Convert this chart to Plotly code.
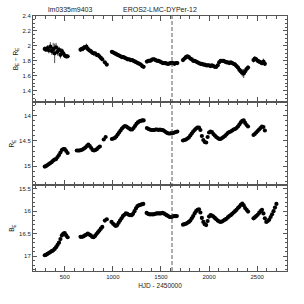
import plotly.graph_objects as go
from plotly.subplots import make_subplots

# ---------------- data ----------------
t_color = [292, 305, 320, 335, 350, 365, 380, 395, 410, 425, 440, 455, 470, 485, 500, 515, 530,
           664, 680, 695, 710, 725, 740, 755, 770, 785, 800, 815, 830, 845, 860, 875, 890, 917, 937,
           990, 1005, 1020, 1035, 1050, 1065, 1080, 1095, 1110, 1125, 1140, 1155, 1170, 1185, 1200, 1215,
           1230, 1245, 1260, 1275, 1290, 1305, 1320,
           1354, 1370, 1385, 1400, 1415, 1430, 1445, 1460, 1475, 1490, 1505, 1520, 1535, 1550, 1565, 1580,
           1595, 1610, 1625, 1640, 1655, 1670,
           1729, 1745, 1760, 1775, 1790, 1805, 1820, 1835, 1850, 1865, 1880, 1895, 1910, 1925, 1940, 1955,
           1970, 1985, 2000, 2015, 2030, 2045, 2060, 2075, 2090, 2105, 2120, 2135, 2150, 2165, 2180, 2195,
           2210, 2225, 2240, 2255, 2270, 2285, 2300, 2315, 2330, 2345, 2360, 2375, 2390, 2405,
           2462, 2475, 2490, 2505, 2520, 2535, 2550, 2565, 2580]
color_be_re = [1.96, 1.95, 1.97, 1.94, 1.99, 1.93, 1.96, 1.90, 1.98, 1.92, 1.95, 1.88, 1.93, 1.90, 1.87, 1.86, 1.86,
               1.95, 1.96, 1.97, 1.98, 1.99, 1.96, 1.94, 1.93, 1.91, 1.90, 1.90, 1.88, 1.88, 1.86, 1.84, 1.82, 1.78, 1.75,
               1.92, 1.91, 1.90, 1.89, 1.88, 1.87, 1.86, 1.85, 1.85, 1.84, 1.83, 1.82, 1.82, 1.81, 1.81, 1.80,
               1.79, 1.78, 1.77, 1.76, 1.75, 1.73, 1.72,
               1.79, 1.80, 1.80, 1.81, 1.82, 1.82, 1.81, 1.80, 1.80, 1.79, 1.78, 1.77, 1.77, 1.77, 1.76, 1.76,
               1.77, 1.77, 1.77, 1.76, 1.77, 1.77,
               1.81, 1.83, 1.85, 1.86, 1.85, 1.83, 1.82, 1.80, 1.80, 1.79, 1.78, 1.77, 1.76, 1.76, 1.75, 1.75,
               1.74, 1.74, 1.74, 1.73, 1.74, 1.73, 1.72, 1.72, 1.74, 1.78, 1.80, 1.80, 1.80, 1.79, 1.78, 1.78,
               1.77, 1.78, 1.77, 1.76, 1.75, 1.73, 1.71, 1.68, 1.66, 1.64, 1.63, 1.66, 1.69, 1.71,
               1.81, 1.83, 1.82, 1.80, 1.79, 1.78, 1.77, 1.79, 1.76]
color_err = [0.03, 0.03, 0.04, 0.04, 0.06, 0.05, 0.08, 0.13, 0.06, 0.05, 0.04, 0.05, 0.04, 0.03, 0.03, 0.03, 0.02,
             0.03, 0.03, 0.04, 0.03, 0.04, 0.03, 0.03, 0.03, 0.03, 0.03, 0.02, 0.03, 0.02, 0.03, 0.02, 0.02, 0.02, 0.02,
             0.02, 0.02, 0.02, 0.03, 0.02, 0.02, 0.02, 0.02, 0.02, 0.02, 0.02, 0.02, 0.02, 0.02, 0.02, 0.02,
             0.02, 0.02, 0.02, 0.02, 0.02, 0.02, 0.02,
             0.02, 0.02, 0.02, 0.03, 0.02, 0.02, 0.02, 0.02, 0.02, 0.02, 0.02, 0.02, 0.02, 0.02, 0.02, 0.02,
             0.02, 0.02, 0.02, 0.02, 0.02, 0.02,
             0.02, 0.03, 0.03, 0.02, 0.02, 0.02, 0.02, 0.02, 0.02, 0.02, 0.02, 0.02, 0.02, 0.02, 0.02, 0.02,
             0.02, 0.02, 0.02, 0.02, 0.02, 0.02, 0.02, 0.02, 0.02, 0.02, 0.02, 0.02, 0.02, 0.02, 0.02, 0.02,
             0.02, 0.02, 0.02, 0.02, 0.03, 0.03, 0.03, 0.04, 0.04, 0.05, 0.06, 0.04, 0.03, 0.03,
             0.03, 0.03, 0.03, 0.03, 0.03, 0.03, 0.03, 0.04, 0.03]

t_red = [292, 305, 320, 335, 350, 365, 380, 395, 410, 425, 440, 455, 470, 485, 500, 515, 530,
         625, 640, 655, 670, 685, 700, 715, 730, 745, 760, 775, 790, 805, 820, 835, 850, 865, 905, 925,
         990, 1005, 1020, 1035, 1050, 1065, 1080, 1095, 1110, 1125, 1140, 1155, 1170, 1185, 1200, 1215,
         1230, 1245, 1260, 1275, 1290, 1305, 1320,
         1354, 1370, 1385, 1400, 1415, 1430, 1445, 1460, 1475, 1490, 1505, 1520, 1535, 1550, 1565, 1580,
         1595, 1610, 1625, 1640, 1655, 1670,
         1729, 1745, 1760, 1775, 1790, 1805, 1820, 1835, 1850, 1865, 1880, 1895, 1910, 1925, 1940, 1955,
         1970, 1985, 2000, 2015, 2030, 2045, 2060, 2075, 2090, 2105, 2120, 2135, 2150, 2165, 2180, 2195,
         2210, 2225, 2240, 2255, 2270, 2285, 2300, 2315, 2330, 2345, 2360, 2375, 2390, 2405,
         2462, 2475, 2490, 2505, 2520, 2535, 2550, 2565, 2580]
r_e = [15.01, 15.00, 14.98, 14.96, 14.94, 14.92, 14.89, 14.87, 14.86, 14.82, 14.78, 14.73, 14.68, 14.66, 14.66, 14.70, 14.74,
       14.69, 14.69, 14.69, 14.68, 14.67, 14.65, 14.63, 14.60, 14.57, 14.60, 14.64, 14.68, 14.69, 14.68, 14.66, 14.63, 14.61, 14.47, 14.42,
       14.46, 14.45, 14.44, 14.41, 14.37, 14.33, 14.29, 14.25, 14.22, 14.20, 14.21, 14.23, 14.25, 14.27, 14.27, 14.24,
       14.20, 14.16, 14.13, 14.11, 14.10, 14.09, 14.09,
       14.24, 14.26, 14.27, 14.28, 14.28, 14.28, 14.27, 14.27, 14.28, 14.27, 14.28, 14.28, 14.30, 14.32, 14.34, 14.35,
       14.35, 14.34, 14.34, 14.33, 14.32, 14.31,
       14.49, 14.48, 14.47, 14.45, 14.43, 14.39, 14.35, 14.31, 14.28, 14.25, 14.23, 14.23, 14.28, 14.40, 14.48, 14.52,
       14.53, 14.42, 14.33, 14.31, 14.32, 14.36, 14.39, 14.42, 14.44, 14.46, 14.46, 14.44, 14.42, 14.40, 14.37, 14.34,
       14.32, 14.31, 14.29, 14.27, 14.26, 14.24, 14.21, 14.17, 14.13, 14.10, 14.09, 14.14, 14.18, 14.21,
       14.38, 14.36, 14.33, 14.30, 14.27, 14.24, 14.21, 14.22, 14.29]

t_blue = [292, 305, 320, 335, 350, 365, 380, 395, 410, 425, 440, 455, 470, 485, 500, 515, 530,
          664, 680, 695, 710, 725, 740, 755, 770, 785, 800, 815, 830, 845, 860, 875, 890, 917, 937,
          986, 1003, 1018, 1031, 1045, 1060, 1075, 1090, 1105, 1120, 1135, 1150, 1165, 1180, 1195, 1210,
          1225, 1240, 1255, 1270, 1285, 1300, 1316,
          1351, 1365, 1380, 1395, 1410, 1425, 1440, 1455, 1470, 1485, 1500, 1515, 1530, 1545, 1560, 1575,
          1590, 1605, 1620, 1635, 1650, 1665,
          1729, 1745, 1760, 1775, 1790, 1805, 1820, 1835, 1850, 1865, 1880, 1895, 1910, 1925, 1940, 1955,
          1970, 1985, 2000, 2015, 2030, 2045, 2060, 2075, 2090, 2105, 2120, 2135, 2150, 2165, 2180, 2195,
          2210, 2225, 2240, 2255, 2270, 2285, 2300, 2315, 2330, 2345, 2360, 2375, 2390, 2405,
          2462, 2475, 2490, 2505, 2520, 2535, 2550, 2565, 2580, 2595, 2610, 2625, 2640, 2655, 2670, 2685, 2700]
b_e = [16.98, 16.97, 16.95, 16.93, 16.91, 16.89, 16.87, 16.84, 16.80, 16.75, 16.70, 16.62, 16.54, 16.50, 16.49, 16.54, 16.58,
       16.57, 16.57, 16.56, 16.54, 16.52, 16.50, 16.52, 16.54, 16.57, 16.58, 16.55, 16.51, 16.47, 16.43, 16.39, 16.35, 16.21, 16.18,
       16.24, 16.28, 16.31, 16.33, 16.31, 16.26, 16.21, 16.16, 16.11, 16.08, 16.05, 16.06, 16.08, 16.09, 16.09, 16.06,
       16.00, 15.94, 15.89, 15.87, 15.86, 15.85, 15.84,
       16.04, 16.06, 16.07, 16.07, 16.07, 16.07, 16.06, 16.05, 16.05, 16.05, 16.05, 16.04, 16.05, 16.07, 16.09, 16.11,
       16.13, 16.13, 16.12, 16.11, 16.11, 16.11,
       16.30, 16.29, 16.28, 16.26, 16.24, 16.21, 16.16, 16.11, 16.05, 16.00, 15.97, 15.96, 16.03, 16.15, 16.24, 16.29,
       16.31, 16.22, 16.12, 16.09, 16.10, 16.12, 16.15, 16.18, 16.21, 16.23, 16.24, 16.23, 16.21, 16.19, 16.17, 16.14,
       16.11, 16.09, 16.06, 16.03, 16.00, 15.97, 15.93, 15.90, 15.86, 15.83, 15.87, 15.93, 15.97, 16.01,
       16.16, 16.14, 16.11, 16.08, 16.04, 16.00, 15.97, 16.05, 16.16, 16.24, 16.22, 16.19, 16.13, 16.07, 16.00, 15.92, 15.84]

x_ticks = [500, 1000, 1500, 2000, 2500]
marker_hjd = 1615
field_label = "lm0335m9403"
star_label = "EROS2-LMC-DYPer-12"

# ---------------- figure ----------------
FONT = "Liberation Sans, Arial, Helvetica, sans-serif"
TXT = "#222222"
fig = make_subplots(rows=3, cols=1, shared_xaxes=True, vertical_spacing=0)

mk = dict(color="black", size=4.2, line=dict(width=0))
fig.add_trace(go.Scatter(x=t_color, y=color_be_re, mode="markers", marker=mk,
                         error_y=dict(type="data", array=color_err, width=0, thickness=0.7, color="black")),
              row=1, col=1)
fig.add_trace(go.Scatter(x=t_red, y=r_e, mode="markers", marker=mk), row=2, col=1)
fig.add_trace(go.Scatter(x=t_blue, y=b_e, mode="markers", marker=mk), row=3, col=1)

axcol = "#555555"
xcommon = dict(range=[170, 2810], tickvals=x_ticks, ticks="inside", ticklen=5, tickwidth=1,
               tickcolor=axcol, showline=True, linecolor=axcol, linewidth=1, mirror="allticks",
               showgrid=False, zeroline=False, automargin=False,
               minor=dict(dtick=100, tick0=0, ticks="inside", ticklen=3, tickcolor=axcol, showgrid=False),
               tickfont=dict(family=FONT, size=6, color=TXT))
for i in (1, 2, 3):
    fig.update_xaxes(row=i, col=1, **xcommon)
fig.update_xaxes(row=1, col=1, showticklabels=False)
fig.update_xaxes(row=2, col=1, showticklabels=False)
fig.update_xaxes(row=3, col=1, title=dict(text="HJD - 2450000", font=dict(family=FONT, size=6.5, color=TXT),
                                          standoff=4))

ycommon = dict(ticks="inside", ticklen=4, tickwidth=1, tickcolor=axcol, showline=True, linecolor=axcol,
               linewidth=1, mirror="allticks", showgrid=False, zeroline=False, automargin=False,
               tickfont=dict(family=FONT, size=6, color=TXT))
fig.update_yaxes(row=1, col=1, range=[1.25, 2.4], tick0=1.4, dtick=0.2,
                 minor=dict(dtick=0.05, tick0=1.4, ticks="inside", ticklen=2, tickcolor=axcol, showgrid=False),
                 title=dict(text="B<sub>E</sub> − R<sub>E</sub>", font=dict(family=FONT, size=6.5, color=TXT),
                            standoff=3),
                 **ycommon)
fig.update_yaxes(row=2, col=1, range=[15.38, 13.72], tick0=14, dtick=0.5,
                 minor=dict(dtick=0.1, tick0=14, ticks="inside", ticklen=2, tickcolor=axcol, showgrid=False),
                 title=dict(text="R<sub>E</sub>", font=dict(family=FONT, size=6.5, color=TXT), standoff=3),
                 **ycommon)
fig.update_yaxes(row=3, col=1, range=[17.33, 15.42], tick0=15.5, dtick=0.5,
                 minor=dict(dtick=0.1, tick0=15.5, ticks="inside", ticklen=2, tickcolor=axcol, showgrid=False),
                 title=dict(text="B<sub>E</sub>", font=dict(family=FONT, size=6.5, color=TXT), standoff=3),
                 **ycommon)

# panel domains (bottom -> top)
fig.update_layout(yaxis3=dict(domain=[0.0, 0.337]), yaxis2=dict(domain=[0.337, 0.663]),
                  yaxis=dict(domain=[0.663, 1.0]))

fig.add_shape(type="line", xref="x", yref="paper", x0=marker_hjd, x1=marker_hjd, y0=0, y1=1,
              line=dict(color="#333333", width=0.8, dash="4px,2px"))

fig.add_annotation(text=field_label, xref="paper", yref="paper", x=0.05, y=1.0, xanchor="left",
                   yanchor="bottom", yshift=1, showarrow=False,
                   font=dict(family=FONT, size=7, color=TXT))
fig.add_annotation(text=star_label, xref="paper", yref="paper", x=0.5, y=1.0, xanchor="center",
                   yanchor="bottom", yshift=1, showarrow=False,
                   font=dict(family=FONT, size=7, color=TXT))

fig.update_layout(width=304, height=304, margin=dict(l=33, r=17, t=16, b=33, autoexpand=False),
                  paper_bgcolor="white", plot_bgcolor="white", showlegend=False)

fig.write_html("out.html", config={"displayModeBar": False},
               post_script="document.body.style.margin='0';document.body.style.padding='0';"
                           "document.body.style.overflow='hidden';")
